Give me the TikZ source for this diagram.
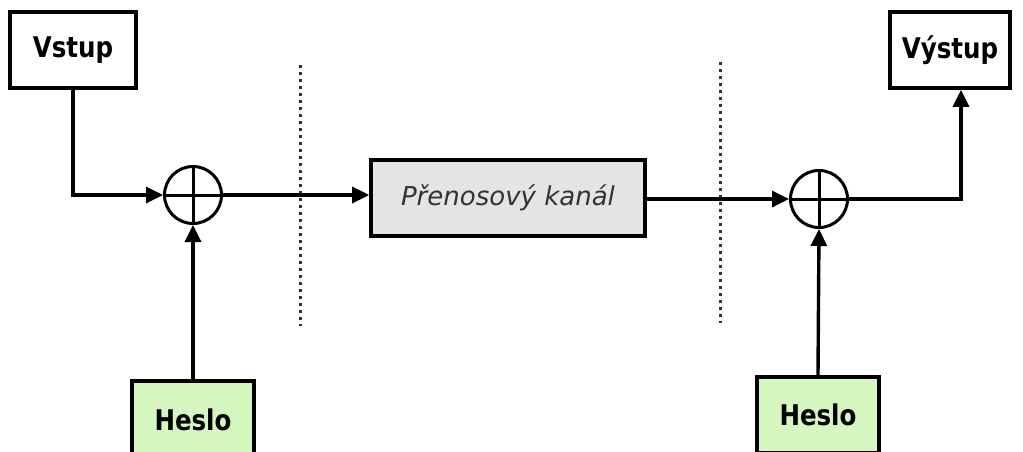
\documentclass[tikz,border=0pt]{standalone}
\usepackage{fontspec}
\setmainfont{DejaVu Sans}
\newfontfamily\labelfont{DejaVu Sans}[FakeStretch=0.86]
\usetikzlibrary{arrows.meta}
\definecolor{keygreen}{HTML}{D6F6C0}
\definecolor{chgray}{HTML}{E4E4E4}
\begin{document}
\begin{tikzpicture}[x=1pt,y=-1pt,
  blk/.style={draw=black, line width=3.6pt, inner sep=0pt, minimum height=76pt},
  iolabel/.style={blk, fill=white, font=\labelfont\bfseries\fontsize{28.5}{32}\selectfont},
  keybox/.style={blk, fill=keygreen, font=\labelfont\bfseries\fontsize{28.5}{32}\selectfont},
  chanbox/.style={blk, fill=chgray, text=black!80, font=\itshape\fontsize{26}{30}\selectfont},
  xorsum/.style={draw=black, line width=3pt, circle, inner sep=0pt, minimum size=57pt,
    path picture={\draw[line width=3pt]
      (path picture bounding box.north) -- (path picture bounding box.south)
      (path picture bounding box.west) -- (path picture bounding box.east);}},
  arr/.style={line width=3.4pt, -{Triangle[length=17pt,width=16pt]}},
  divider/.style={line width=3pt, black!80, dash pattern=on 3pt off 4pt}
]
\useasboundingbox (0,0) rectangle (1023,451);
\clip (0,0) rectangle (1023,451);

% blocks
\node[iolabel, minimum width=126pt] (vstup) at (73,50) {Vstup};
\node[iolabel, minimum width=120pt] (vystup) at (950,50) {Výstup};
\node[chanbox, minimum width=274pt] (chan) at (508,198) {Přenosový kanál};
\node[keybox, minimum width=122pt, minimum height=78pt] (heslo1) at (193,420) {Heslo};
\node[keybox, minimum width=122pt] (heslo2) at (818,415) {Heslo};

% XOR summers
\node[xorsum] (xor1) at (193,195) {};
\node[xorsum] (xor2) at (819,199) {};

% channel boundaries
\draw[divider] (300,65) -- (300,326);
\draw[divider] (720,62) -- (720,323);

% signal flow
\draw[arr] (vstup.south) |- (xor1.west);
\draw[arr] (xor1.east) -- (chan.west |- xor1.east);
\draw[arr] (chan.east |- xor2.west) -- (xor2.west);
\draw[arr] (heslo1.north) -- (xor1.south);
\draw[arr] (heslo2.north) -- (xor2.south);
\draw[arr] (xor2.east) -| ([xshift=11pt]vystup.south);
\end{tikzpicture}
\end{document}
